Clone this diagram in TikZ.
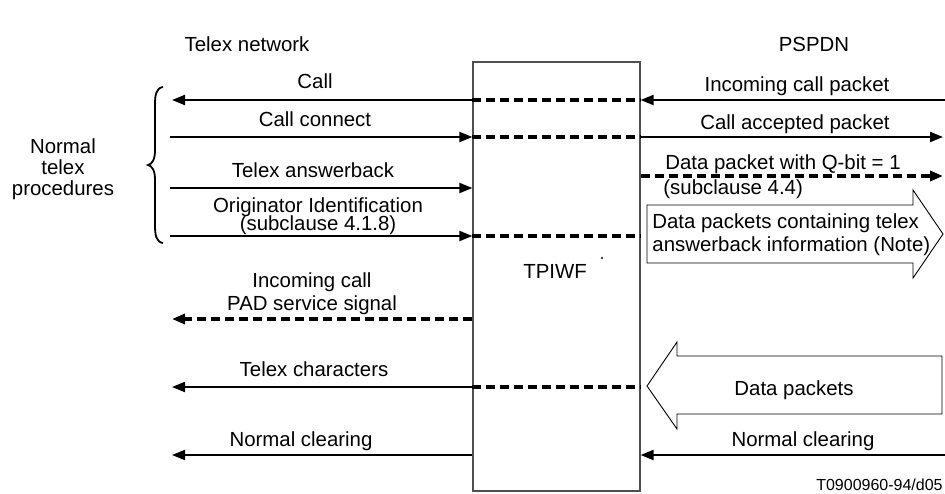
\documentclass[tikz,border=0pt]{standalone}
\usepackage{fontspec}
\setmainfont{Liberation Sans}
\usetikzlibrary{arrows.meta,calc}
\definecolor{boxgray}{RGB}{80,80,80}
\begin{document}
\begin{tikzpicture}[x=0.5pt,y=-0.5pt,
  txt/.style={font=\fontsize{10.2}{12}\selectfont, inner sep=0pt, anchor=base},
  txtl/.style={txt, anchor=base west},
  tip/.style={-{Triangle[length=6.5pt,width=5pt]}},
  sline/.style={line width=1pt},
  sarrow/.style={sline, tip},
  dline/.style={line width=1.6pt, dash pattern=on 4.5pt off 2.5pt},
  darrow/.style={dline, tip},
  bigarrow/.style={draw, line width=0.45pt, fill=white},
  ]
\useasboundingbox (0,0) rectangle (945,493);

% the interworking function box
\node (iwf) [draw=boxgray, line width=0.6pt, inner sep=0pt,
  minimum width=83.5pt, minimum height=214.5pt] at (556.5,276.5) {};
\node (tpiwf) [txt] at (555,278) {TPIWF};
\fill (602,258) circle (0.6pt);

% headings
\node (telexnet) [txt] at (247,51) {Telex network};
\node (pspdn) [txt] at (814,51) {PSPDN};

% brace and its label
\draw[line width=0.9pt] (163,87) .. controls (156,88) and (155,95) .. (155,105)
  -- (155,150) .. controls (155,160) and (152,164) .. (148,165)
  .. controls (152,166) and (155,170) .. (155,180)
  -- (155,225) .. controls (155,235) and (156,242) .. (163,243);
\node (ntp1) [txt] at (63,153) {Normal};
\node (ntp2) [txt] at (63,174) {telex};
\node (ntp3) [txt] at (63,195) {procedures};

% coordinates of the free ends
\coordinate (l1) at (172,100);
\coordinate (r1) at (945,100);
\coordinate (l2) at (170,137);
\coordinate (r2) at (943,137);
\coordinate (l3) at (170,188);
\coordinate (r4) at (943,176);
\coordinate (l5) at (170,236);
\coordinate (l6) at (172,319);
\coordinate (l7) at (172,387);
\coordinate (l8) at (172,455);
\coordinate (r8) at (945,455);

% Call / Incoming call packet
\draw[sarrow] (iwf.west |- l1) -- (l1);
\draw[dline] (iwf.west |- l1) -- (iwf.east |- l1);
\draw[sarrow] (r1) -- (iwf.east |- r1);
\node (call) [txt] at (315,88) {Call};
\node (icp) [txt] at (797,91) {Incoming call packet};

% Call connect / Call accepted packet
\draw[sarrow] (l2) -- (iwf.west |- l2);
\draw[dline] (iwf.west |- l2) -- (iwf.east |- l2);
\draw[sarrow] (iwf.east |- r2) -- (r2);
\node (cc) [txt] at (315,126) {Call connect};
\node (cap) [txt] at (795,129) {Call accepted packet};

% Telex answerback
\draw[sarrow] (l3) -- (iwf.west |- l3);
\node (ta) [txt] at (313,177) {Telex answerback};

% Data packet with Q-bit
\draw[darrow] (iwf.east |- r4) -- (r4);
\node (qbit) [txt] at (783,169) {Data packet with Q-bit = 1};
\node (sc44) [txtl] at (663,194) {(subclause 4.4)};

% Originator identification
\draw[sarrow] (l5) -- (iwf.west |- l5);
\draw[dline] (iwf.west |- l5) -- (iwf.east |- l5);
\node (oi1) [txt] at (318,212) {Originator Identification};
\node (oi2) [txt] at (318,230) {(subclause 4.1.8)};

% big arrow: answerback data packets
\draw[bigarrow] (647,205) -- (913,205) -- (913,190) -- (943,234) -- (913,278)
  -- (913,263) -- (647,263) -- cycle;
\node (dpc1) [txtl] at (652,228) {Data packets containing telex};
\node (dpc2) [txtl] at (652,251) {answerback information (Note)};

% Incoming call PAD service signal
\draw[darrow] (iwf.west |- l6) -- (l6);
\node (pad1) [txt] at (312,287) {Incoming call};
\node (pad2) [txt] at (312,310) {PAD service signal};

% Telex characters / Data packets
\draw[sarrow] (iwf.west |- l7) -- (l7);
\draw[dline] (iwf.west |- l7) -- (iwf.east |- l7);
\node (tc) [txt] at (314,376) {Telex characters};
\draw[bigarrow] (647,386) -- (677,342) -- (677,356) -- (942,356) -- (942,414)
  -- (677,414) -- (677,429) -- cycle;
\node (dp) [txt] at (794,395) {Data packets};

% Normal clearing
\draw[sarrow] (iwf.west |- l8) -- (l8);
\draw[sarrow] (r8) -- (iwf.east |- r8);
\node (ncl) [txt] at (301,446) {Normal clearing};
\node (ncr) [txt] at (803,446) {Normal clearing};

% reference number
\node (ref) [txt, anchor=base east, font=\fontsize{8}{10}\selectfont] at (943,490) {T0900960-94/d05};
\end{tikzpicture}
\end{document}
